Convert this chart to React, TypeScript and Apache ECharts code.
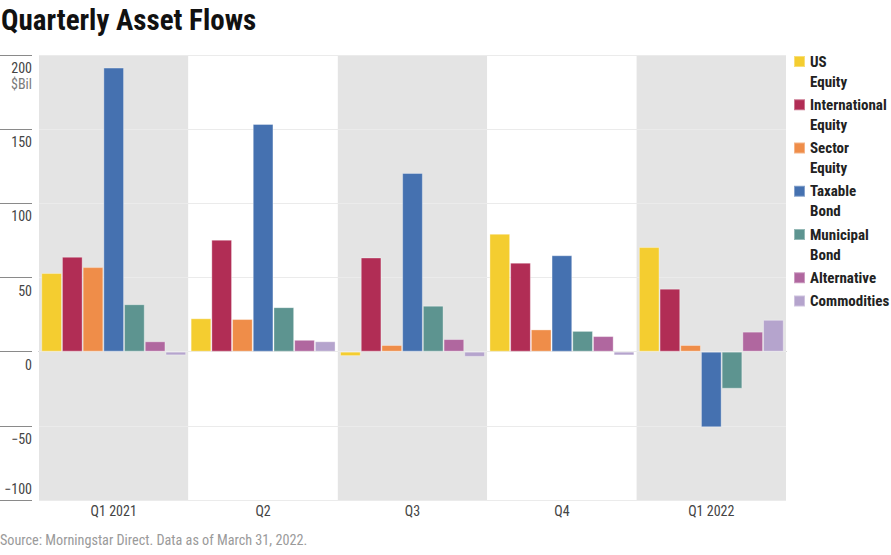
import React, { useEffect, useRef } from "react";
import * as echarts from "echarts";

const categories = ["Q1 2021", "Q2", "Q3", "Q4", "Q1 2022"];
const seriesNames = [
  "US Equity",
  "International Equity",
  "Sector Equity",
  "Taxable Bond",
  "Municipal Bond",
  "Alternative",
  "Commodities",
];
const usEquity = [53, 22.5, -3, 79.5, 70.5];
const intlEquity = [64, 75.5, 63.5, 60, 42.5];
const sectorEquity = [57, 22, 4.5, 15, 4.5];
const taxableBond = [191.5, 153.5, 120.5, 65, -51];
const municipalBond = [32, 30, 31, 14, -25];
const alternative = [7, 8, 8.5, 10.5, 13.5];
const commodities = [-2.5, 7, -3.5, -2.5, 21.5];
const seriesValues = [usEquity, intlEquity, sectorEquity, taxableBond, municipalBond, alternative, commodities];
const colors = ["#F4CD30", "#B12D55", "#EF8D49", "#4571B0", "#5D9490", "#B0679F", "#B5A4CD"];

const yMin = -100;
const yMax = 200;
const yStep = 50;
const unitLabel = "$Bil";
const title = "Quarterly Asset Flows";
const source = "Source: Morningstar Direct. Data as of March 31, 2022.";

const FONT = "'Roboto Condensed', 'DejaVu Sans Condensed', sans-serif";

// legend text: icon aligned with first line
const legendLabel = (n: string) => {
  if (n === "Commodities") return n;
  if (n.indexOf(" ") < 0) return "\n" + n + "\n";
  return "\n" + n.replace(" ", "\n");
};

export default function App() {
  const ref = useRef<HTMLDivElement>(null);
  useEffect(() => {
    document.body.style.margin = "0";
    const chart = echarts.init(ref.current!, undefined, { renderer: "svg" });
    const fmt = (v: number) => String(v).replace("-", "\u2212");
    chart.setOption({
      animation: false,
      backgroundColor: "#ffffff",
      textStyle: { fontFamily: FONT },
      title: [
        {
          text: title,
          left: 1,
          top: 5,
          padding: 0,
          textStyle: { fontFamily: FONT, fontSize: 29, fontWeight: "bold", color: "#111" },
        },
        {
          text: source,
          left: 0,
          top: 533,
          padding: 0,
          textStyle: { fontFamily: FONT, fontSize: 14.2, fontWeight: "normal", color: "#9a9a9a" },
        },
      ],
      legend: {
        orient: "vertical",
        left: 793,
        top: 31.5,
        padding: 0,
        itemGap: -16.75,
        itemWidth: 11,
        itemHeight: 11,
        icon: "rect",
        formatter: legendLabel,
        textStyle: { fontFamily: FONT, fontSize: 15, fontWeight: "bold", color: "#222", lineHeight: 20 },
        data: seriesNames,
      },
      grid: { left: 39, right: 105, top: 55, bottom: 55, containLabel: false },
      xAxis: {
        type: "category",
        data: categories,
        z: 0,
        axisLine: { show: true, lineStyle: { color: "#9a9a9a", width: 1 } },
        axisTick: { show: false },
        axisLabel: { color: "#444", fontSize: 14, margin: 4, fontFamily: FONT },
        splitLine: { show: false },
        splitArea: { show: true, areaStyle: { color: ["#e4e4e4", "#ffffff"] } },
      },
      yAxis: [
        {
          type: "value",
          min: yMin,
          max: yMax,
          interval: yStep,
          position: "left",
          offset: 7,
          z: 1,
          axisLine: { show: false },
          axisTick: { show: true, length: 32, lineStyle: { color: "#8a8a8a", width: 1 } },
          splitLine: { show: true, lineStyle: { color: "#ebebeb", width: 1 } },
          axisLabel: {
            margin: 0,
            color: "#444",
            fontSize: 14,
            fontFamily: FONT,
            verticalAlign: "top",
            padding: [5, 0, 0, 0],
            formatter: (v: number) =>
              v === yMax ? `{n|${fmt(v)}}\n{u|${unitLabel}}` : v === yMin ? "" : `{n|${fmt(v)}}`,
            rich: {
              n: { color: "#444", fontSize: 14, fontFamily: FONT, lineHeight: 16, align: "right" },
              u: { color: "#7a7a7a", fontSize: 14, fontFamily: FONT, lineHeight: 15, align: "right" },
            },
          },
        },
        {
          type: "value",
          min: yMin,
          max: yMax,
          interval: yStep,
          position: "left",
          offset: 7,
          axisLine: { show: false },
          axisTick: { show: false },
          splitLine: { show: false },
          axisLabel: {
            margin: 0,
            color: "#444",
            fontSize: 14,
            fontFamily: FONT,
            verticalAlign: "bottom",
            padding: [0, 0, 4, 0],
            formatter: (v: number) => (v === yMin ? fmt(v) : ""),
          },
        },
      ],
      series: seriesNames.map((name, i) => ({
        name,
        type: "bar",
        yAxisIndex: 0,
        data: seriesValues[i],
        barGap: "0%",
        barCategoryGap: "3%",
        itemStyle: { color: colors[i], borderColor: "rgba(255,255,255,0.35)", borderWidth: 1 },
        emphasis: { disabled: true },
      })),
    });
    return () => chart.dispose();
  }, []);
  return <div ref={ref} style={{ width: 891, height: 555 }} />;
}
